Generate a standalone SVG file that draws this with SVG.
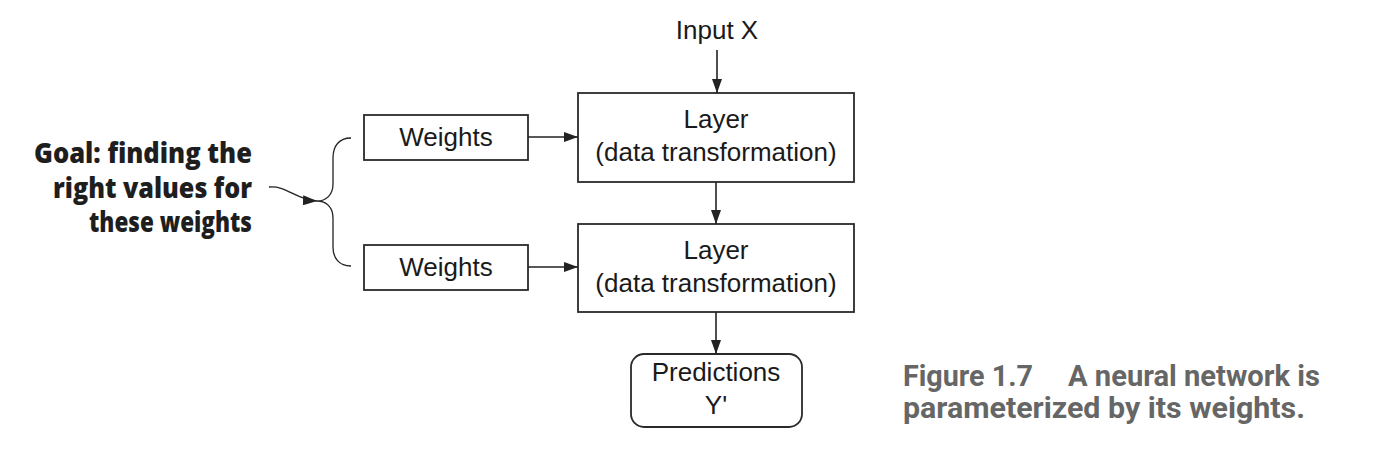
<svg xmlns="http://www.w3.org/2000/svg" width="1374" height="468" viewBox="0 0 1374 468">
<style>
.box{fill:#fff;stroke:#2a2a2a;stroke-width:1.8}
.lbl{font-family:"Liberation Sans",Arial,sans-serif;font-size:26px;fill:#1a1a1a;text-anchor:middle}
.edge{fill:none;stroke:#222;stroke-width:1.6}
.goal{font-family:"Open Sans","Liberation Sans",sans-serif;font-weight:800;font-size:28px;fill:#1e1e1e;text-anchor:end}
.cap{font-family:Roboto,"Liberation Sans",sans-serif;font-weight:bold;font-size:30px;fill:#666}
</style>
<defs>
<marker id="ah" viewBox="0 0 14 10" markerWidth="14" markerHeight="10" refX="14" refY="5" orient="auto" markerUnits="userSpaceOnUse">
<path d="M0,0 L14,5 L0,10 z" fill="#222"/>
</marker>
</defs>
<rect width="1374" height="468" fill="#fff"/>

<g id="input">
<text class="lbl" x="717" y="39">Input X</text>
</g>
<g id="layer1">
<rect class="box" x="578" y="93" width="276" height="89"/>
<text class="lbl" x="716" y="128">Layer</text>
<text class="lbl" x="716" y="161">(data transformation)</text>
</g>
<g id="layer2">
<rect class="box" x="578" y="224" width="276" height="88"/>
<text class="lbl" x="716" y="259">Layer</text>
<text class="lbl" x="716" y="292">(data transformation)</text>
</g>
<g id="weights1">
<rect class="box" x="364" y="115" width="164" height="45"/>
<text class="lbl" x="446" y="146">Weights</text>
</g>
<g id="weights2">
<rect class="box" x="364" y="245" width="164" height="45"/>
<text class="lbl" x="446" y="276">Weights</text>
</g>
<g id="predictions">
<rect class="box" x="631" y="354" width="171" height="73" rx="13" ry="13"/>
<text class="lbl" x="716" y="381">Predictions</text>
<text class="lbl" x="716" y="414">Y'</text>
</g>
<g id="goal">
<text class="goal" x="252" y="163" textLength="218" lengthAdjust="spacingAndGlyphs">Goal: finding the</text>
<text class="goal" x="252" y="198" textLength="199" lengthAdjust="spacingAndGlyphs">right values for</text>
<text class="goal" x="252" y="232" textLength="163" lengthAdjust="spacingAndGlyphs">these weights</text>
</g>
<g id="caption">
<text class="cap" x="903" y="386"><tspan x="903" textLength="130" lengthAdjust="spacingAndGlyphs">Figure 1.7</tspan><tspan x="1068" textLength="252" lengthAdjust="spacingAndGlyphs">A neural network is</tspan></text>
<text class="cap" x="903" y="418" textLength="402" lengthAdjust="spacingAndGlyphs">parameterized by its weights.</text>
</g>
<g id="connectors">
<line class="edge" x1="717" y1="50" x2="717" y2="93" marker-end="url(#ah)"/>
<line class="edge" x1="716" y1="182" x2="716" y2="224" marker-end="url(#ah)"/>
<line class="edge" x1="716" y1="312" x2="716" y2="354" marker-end="url(#ah)"/>
<line class="edge" x1="528" y1="137" x2="578" y2="137" marker-end="url(#ah)"/>
<line class="edge" x1="528" y1="267" x2="578" y2="267" marker-end="url(#ah)"/>
<path class="edge" style="stroke-width:1.3" d="M351,138 C339,138 333,146 333,158 L333,184 C333,195 326,201 317,201 C326,201 333,207 333,218 L333,247 C333,258 339,266 351,266"/>
<path class="edge" style="stroke-width:1.3" d="M269,187 C286,185 296,200 317,201" marker-end="url(#ah)"/>
</g>
</svg>
